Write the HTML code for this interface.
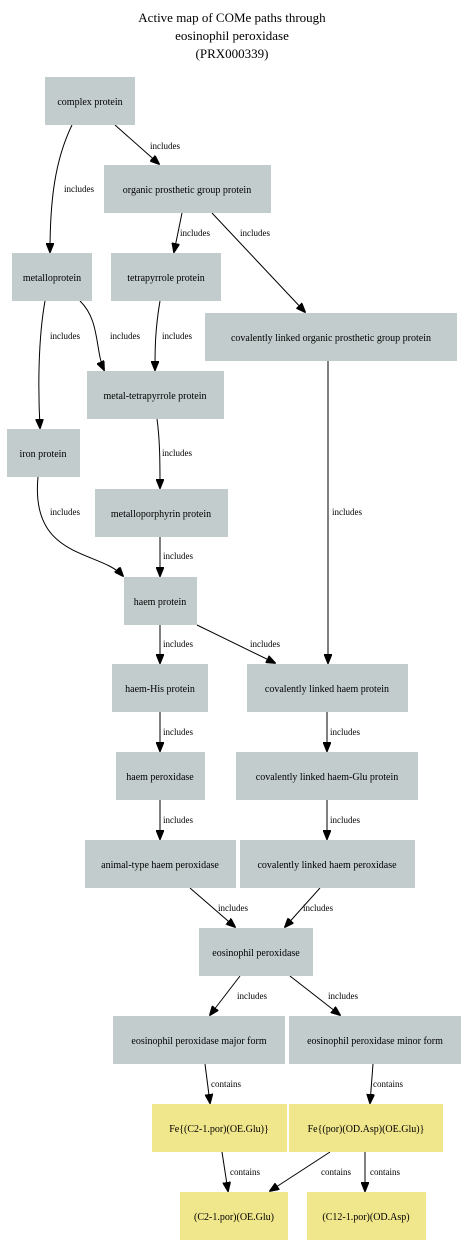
<!DOCTYPE html>
<html><head><meta charset="utf-8"><style>
html,body{margin:0;padding:0;background:#fff;}
svg{display:block;font-family:"Liberation Serif",serif;}
.n{fill:#c2cccc;}
.y{fill:#f0e68c;}
.t{font-size:10px;text-anchor:middle;}
.l{font-size:9px;}
path{fill:none;stroke:#000;stroke-width:1;}
</style></head><body>
<svg width="465" height="1257" viewBox="0 0 465 1257">
<defs><marker id="a" markerWidth="10" markerHeight="8" refX="9" refY="4" orient="auto" markerUnits="userSpaceOnUse"><path d="M0,0 L10,4 L0,8 Z" style="fill:#000;stroke:#000"/></marker></defs>
<text x="232" y="22" style="font-size:13px;text-anchor:middle">Active map of COMe paths through</text>
<text x="232" y="40" style="font-size:13px;text-anchor:middle">eosinophil peroxidase</text>
<text x="232" y="58" style="font-size:13px;text-anchor:middle">(PRX000339)</text>

<g marker-end="url(#a)">
<path d="M72,125 C55,160 50,200 50,252"/>
<path d="M115,125 L159,164"/>
<path d="M182,213 L174,252"/>
<path d="M212,213 L305,312"/>
<path d="M45,301 C38,340 38,390 40,428"/>
<path d="M80,301 C100,320 95,350 104,370"/>
<path d="M160,301 C155,330 155,350 155,370"/>
<path d="M157,419 C160,440 160,465 160,488"/>
<path d="M38,477 C30,560 100,550 123,576"/>
<path d="M160,537 L160,576"/>
<path d="M160,625 L160,663"/>
<path d="M197,625 L275,663"/>
<path d="M328,361 L328,663"/>
<path d="M160,712 L160,751"/>
<path d="M327,712 L327,751"/>
<path d="M160,800 L160,839"/>
<path d="M327,800 L327,839"/>
<path d="M190,888 L235,927"/>
<path d="M320,888 L285,927"/>
<path d="M240,976 L210,1015"/>
<path d="M290,976 L340,1015"/>
<path d="M205,1064 L210,1103"/>
<path d="M373,1064 L370,1103"/>
<path d="M222,1152 L228,1191"/>
<path d="M330,1152 L270,1191"/>
<path d="M365,1152 L365,1191"/>
</g>

<g class="l">
<text x="64" y="192">includes</text>
<text x="150" y="149">includes</text>
<text x="180" y="236">includes</text>
<text x="240" y="236">includes</text>
<text x="50" y="339">includes</text>
<text x="110" y="339">includes</text>
<text x="162" y="339">includes</text>
<text x="162" y="456">includes</text>
<text x="50" y="515">includes</text>
<text x="163" y="559">includes</text>
<text x="163" y="647">includes</text>
<text x="250" y="647">includes</text>
<text x="332" y="515">includes</text>
<text x="163" y="735">includes</text>
<text x="330" y="735">includes</text>
<text x="163" y="823">includes</text>
<text x="330" y="823">includes</text>
<text x="218" y="911">includes</text>
<text x="303" y="911">includes</text>
<text x="237" y="999">includes</text>
<text x="328" y="999">includes</text>
<text x="211" y="1087">contains</text>
<text x="373" y="1087">contains</text>
<text x="230" y="1175">contains</text>
<text x="321" y="1175">contains</text>
<text x="370" y="1175">contains</text>
</g>

<rect class="n" x="45" y="77" width="90" height="48"/><text class="t" x="90" y="105">complex protein</text>
<rect class="n" x="104" y="165" width="167" height="48"/><text class="t" x="187" y="193">organic prosthetic group protein</text>
<rect class="n" x="12" y="253" width="80" height="48"/><text class="t" x="52" y="281">metalloprotein</text>
<rect class="n" x="111" y="253" width="110" height="48"/><text class="t" x="166" y="281">tetrapyrrole protein</text>
<rect class="n" x="205" y="313" width="252" height="48"/><text class="t" x="331" y="341">covalently linked organic prosthetic group protein</text>
<rect class="n" x="87" y="371" width="137" height="48"/><text class="t" x="155" y="399">metal-tetrapyrrole protein</text>
<rect class="n" x="7" y="429" width="73" height="48"/><text class="t" x="43" y="457">iron protein</text>
<rect class="n" x="95" y="489" width="133" height="48"/><text class="t" x="161" y="517">metalloporphyrin protein</text>
<rect class="n" x="124" y="577" width="73" height="48"/><text class="t" x="160" y="605">haem protein</text>
<rect class="n" x="112" y="664" width="96" height="48"/><text class="t" x="160" y="692">haem-His protein</text>
<rect class="n" x="247" y="664" width="161" height="48"/><text class="t" x="327" y="692">covalently linked haem protein</text>
<rect class="n" x="116" y="752" width="89" height="48"/><text class="t" x="160" y="780">haem peroxidase</text>
<rect class="n" x="236" y="752" width="182" height="48"/><text class="t" x="327" y="780">covalently linked haem-Glu protein</text>
<rect class="n" x="85" y="840" width="151" height="48"/><text class="t" x="160" y="868">animal-type haem peroxidase</text>
<rect class="n" x="240" y="840" width="175" height="48"/><text class="t" x="327" y="868">covalently linked haem peroxidase</text>
<rect class="n" x="199" y="928" width="114" height="48"/><text class="t" x="256" y="956">eosinophil peroxidase</text>
<rect class="n" x="113" y="1016" width="172" height="48"/><text class="t" x="199" y="1044">eosinophil peroxidase major form</text>
<rect class="n" x="289" y="1016" width="172" height="48"/><text class="t" x="375" y="1044">eosinophil peroxidase minor form</text>
<rect class="y" x="152" y="1104" width="135" height="48"/><text class="t" x="219" y="1132">Fe{(C2-1.por)(OE.Glu)}</text>
<rect class="y" x="289" y="1104" width="154" height="48"/><text class="t" x="366" y="1132">Fe{(por)(OD.Asp)(OE.Glu)}</text>
<rect class="y" x="180" y="1192" width="108" height="48"/><text class="t" x="234" y="1220">(C2-1.por)(OE.Glu)</text>
<rect class="y" x="307" y="1192" width="119" height="48"/><text class="t" x="366" y="1220">(C12-1.por)(OD.Asp)</text>
</svg>
</body></html>
